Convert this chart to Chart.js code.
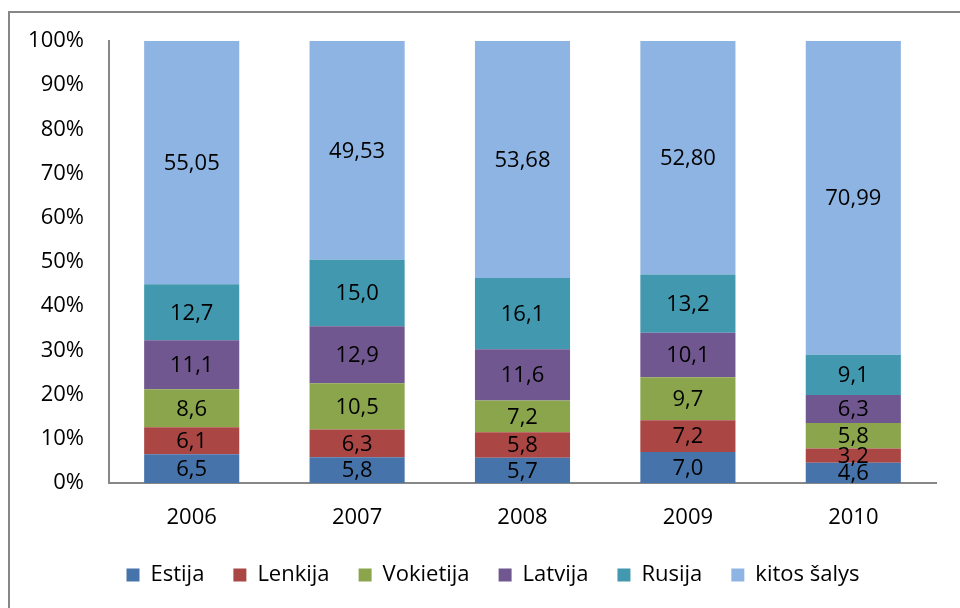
<!DOCTYPE html>
<html lang="lt">
<head>
    <meta charset="UTF-8">
    <title>Eksportas pagal šalis</title>
    <script src="https://cdn.jsdelivr.net/npm/chart.js"></script>
    <style>
        body {
            margin: 0;
            padding: 0;
            background: #fff;
        }
        .wrap {
            position: relative;
            width: 960px;
            height: 608px;
        }
        .frame {
            position: absolute;
            left: 8px;
            top: 11px;
            width: 1000px;
            height: 700px;
            border-left: 2px solid #878787;
            border-top: 2px solid #878787;
        }
    </style>
</head>
<body>
    <div class="wrap">
        <div class="frame"></div>
        <canvas id="chart" width="960" height="608"></canvas>
    </div>

    <script>
        const years = ['2006', '2007', '2008', '2009', '2010'];
        const tickLabels = ['0%', '10%', '20%', '30%', '40%', '50%', '60%', '70%', '80%', '90%', '100%'];

        const estija = [6.5, 5.8, 5.7, 7.0, 4.6];
        const lenkija = [6.1, 6.3, 5.8, 7.2, 3.2];
        const vokietija = [8.6, 10.5, 7.2, 9.7, 5.8];
        const latvija = [11.1, 12.9, 11.6, 10.1, 6.3];
        const rusija = [12.7, 15.0, 16.1, 13.2, 9.1];
        const kitos = [55.05, 49.53, 53.68, 52.80, 70.99];

        const series = [
            { label: 'Estija', values: estija, color: '#4673a9', decimals: 1 },
            { label: 'Lenkija', values: lenkija, color: '#aa4744', decimals: 1 },
            { label: 'Vokietija', values: vokietija, color: '#8aa54c', decimals: 1 },
            { label: 'Latvija', values: latvija, color: '#71578f', decimals: 1 },
            { label: 'Rusija', values: rusija, color: '#4298af', decimals: 1 },
            { label: 'kitos šalys', values: kitos, color: '#8eb4e3', decimals: 2 }
        ];

        // column totals, so every bar fills 100%
        const totals = years.map((y, i) => series.reduce((s, d) => s + d.values[i], 0));

        const fontFamily = "'Open Sans', 'Liberation Sans', sans-serif";

        // value labels in the middle of each segment
        const segmentLabels = {
            id: 'segmentLabels',
            afterDatasetsDraw(chart) {
                const ctx = chart.ctx;
                ctx.save();
                ctx.font = '22px ' + fontFamily;
                ctx.fillStyle = '#000';
                ctx.textAlign = 'center';
                ctx.textBaseline = 'middle';
                chart.data.datasets.forEach((ds, di) => {
                    const meta = chart.getDatasetMeta(di);
                    meta.data.forEach((bar, i) => {
                        const raw = ds.rawValues[i];
                        const txt = raw.toFixed(ds.decimals).replace('.', ',');
                        const y = (bar.y + bar.base) / 2;
                        ctx.fillText(txt, bar.x, y + 1);
                    });
                });
                ctx.restore();
            }
        };

        // legend sits a bit right of the canvas centre in the original
        const shiftLegend = {
            id: 'shiftLegend',
            afterLayout(chart) {
                chart.legend.left += 25;
                chart.legend.right += 25;
            }
        };

        new Chart(document.getElementById('chart'), {
            type: 'bar',
            data: {
                labels: years,
                datasets: series.map(s => ({
                    label: s.label,
                    data: s.values.map((v, i) => v / totals[i] * 100),
                    rawValues: s.values,
                    decimals: s.decimals,
                    backgroundColor: s.color,
                    borderWidth: 0,
                    barPercentage: 0.575,
                    categoryPercentage: 1
                }))
            },
            options: {
                responsive: false,
                animation: false,
                layout: {
                    padding: { top: 41, right: 24, bottom: 12, left: 0 }
                },
                plugins: {
                    tooltip: { enabled: false },
                    legend: {
                        position: 'bottom',
                        labels: {
                            color: '#000',
                            font: { family: fontFamily, size: 22 },
                            boxWidth: 13,
                            boxHeight: 13,
                            padding: 29
                        }
                    }
                },
                scales: {
                    x: {
                        stacked: true,
                        grid: { display: false, drawTicks: false },
                        border: { color: '#878787', width: 2 },
                        ticks: {
                            color: '#000',
                            font: { family: fontFamily, size: 22 },
                            padding: 22
                        },
                        afterFit(scale) { scale.height = 52; }
                    },
                    y: {
                        stacked: true,
                        min: 0,
                        max: 100,
                        grid: { display: false, drawTicks: false },
                        border: { color: '#878787', width: 2 },
                        ticks: {
                            stepSize: 10,
                            color: '#000',
                            font: { family: fontFamily, size: 22 },
                            padding: 25,
                            callback: (v, i) => tickLabels[i]
                        },
                        afterFit(scale) { scale.width = 109; }
                    }
                }
            },
            plugins: [segmentLabels, shiftLegend]
        });
    </script>
</body>
</html>
